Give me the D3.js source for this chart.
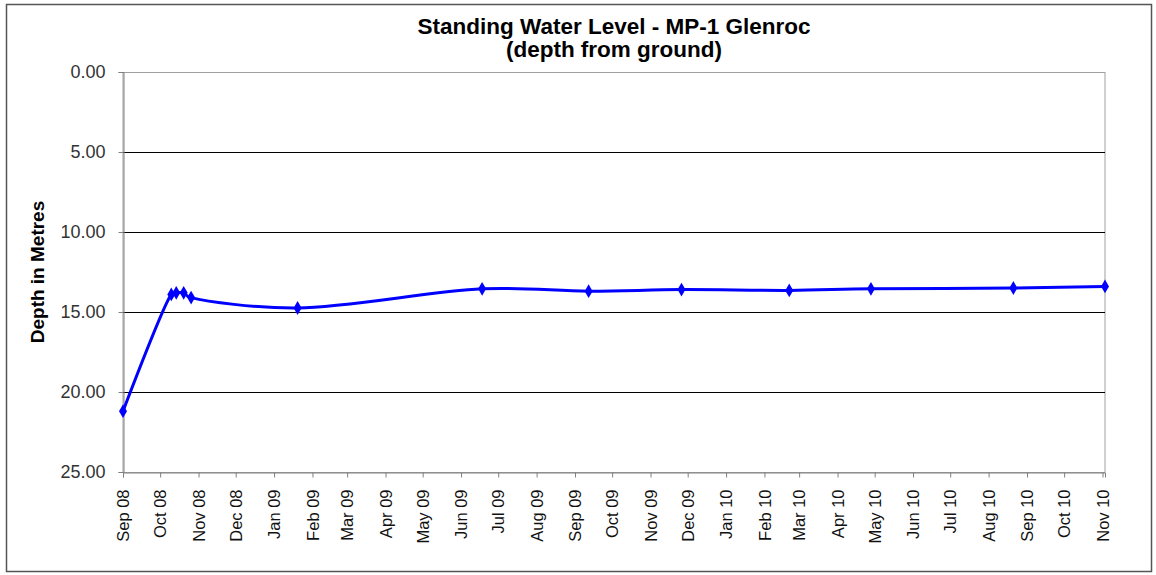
<!DOCTYPE html>
<html><head><meta charset="utf-8">
<script src="https://cdn.jsdelivr.net/npm/d3@7"></script>
<style>body{margin:0;background:#fff}svg{display:block}</style>
</head><body>
<svg id="c" width="1156" height="575"></svg>
<script>
const dates = ["2008-09-03","2008-10-12","2008-10-16","2008-10-22","2008-10-28","2009-01-22","2009-06-20","2009-09-14","2009-11-28","2010-02-23","2010-04-30","2010-08-23","2010-11-05"];
const depths = [21.2,13.9,13.8,13.8,14.1,14.75,13.55,13.7,13.6,13.65,13.55,13.5,13.4];
const yTicks = [0,5,10,15,20,25];
const axisStart = "2008-09-03", axisEnd = "2010-11-05";
const monthCount = 27;
const titleLines = ["Standing Water Level - MP-1 Glenroc","(depth from ground)"];
const yLabel = "Depth in Metres";

const parse = d3.utcParse("%Y-%m-%d");
const data = dates.map((d,i)=>({date:parse(d), v:depths[i]}));
const svg = d3.select("#c");
const L=123,R=1105,T=72,B=472;
const x = d3.scaleUtc().domain([parse(axisStart),parse(axisEnd)]).range([L,R]);
const y = d3.scaleLinear().domain([0,25]).range([T,B]);
const font = "Liberation Sans, Arial, sans-serif";

svg.append("rect").attr("x",6.5).attr("y",4.5).attr("width",1145).attr("height",567)
  .attr("fill","#fff").attr("stroke","#555").attr("stroke-width",1.5);

// plot border (top/right)
svg.append("rect").attr("x",L).attr("y",T+0.5).attr("width",R-L).attr("height",B-T)
  .attr("fill","none").attr("stroke","#a0a0a0").attr("stroke-width",1);

// gridlines
svg.append("g").selectAll("line").data(yTicks.filter(t=>t>0&&t<25)).join("line")
  .attr("x1",L).attr("x2",R).attr("y1",d=>Math.round(y(d))+0.5).attr("y2",d=>Math.round(y(d))+0.5)
  .attr("stroke","#000").attr("stroke-width",1);

// y axis
const ya = svg.append("g").attr("transform",`translate(${L+0.5},0)`)
  .call(d3.axisLeft(y).tickValues(yTicks).tickFormat(d3.format(".2f")).tickSizeOuter(0).tickSize(5).tickPadding(13));
ya.select(".domain").attr("stroke","#808080");
ya.selectAll(".tick line").attr("stroke","#808080");
ya.selectAll("text").attr("font-family",font).attr("font-size",18).attr("fill","#333");

// x axis
const tickDates = d3.range(monthCount).map(i=>d3.utcMonth.offset(parse(axisStart),i));
const xa = svg.append("g").attr("transform",`translate(0,${B+0.5})`)
  .call(d3.axisBottom(x).tickValues(tickDates).tickFormat(d3.utcFormat("%b %y")).tickSizeOuter(0).tickSize(5));
xa.select(".domain").attr("stroke","#808080");
xa.selectAll(".tick line").attr("stroke","#808080");
xa.selectAll("text").attr("font-family",font).attr("font-size",16.5).attr("fill","#111")
  .attr("transform","rotate(-90)").attr("text-anchor","end").attr("x",-17).attr("y",0).attr("dy","0.35em");

// line
svg.append("path").datum(data)
  .attr("d",d3.line().x(d=>x(d.date)).y(d=>y(d.v)).curve(d3.curveCatmullRom.alpha(0.35)))
  .attr("fill","none").attr("stroke","#0000ff").attr("stroke-width",3);
svg.append("g").selectAll("path").data(data).join("path")
  .attr("transform",d=>`translate(${x(d.date)},${y(d.v)})`)
  .attr("d",d3.symbol(d3.symbolDiamond,55)())
  .attr("fill","#0000ff");

// title
svg.append("text").attr("x",614).attr("text-anchor","middle").attr("font-family",font)
  .attr("font-weight","bold").attr("font-size",22.5).attr("fill","#000")
  .selectAll("tspan").data(titleLines).join("tspan").attr("x",614).attr("y",(d,i)=>34+i*23).text(d=>d);

svg.append("text").attr("transform",`translate(44,${(T+B)/2}) rotate(-90)`).attr("text-anchor","middle")
  .attr("font-family",font).attr("font-weight","bold").attr("font-size",19).text(yLabel);
</script>
</body></html>
